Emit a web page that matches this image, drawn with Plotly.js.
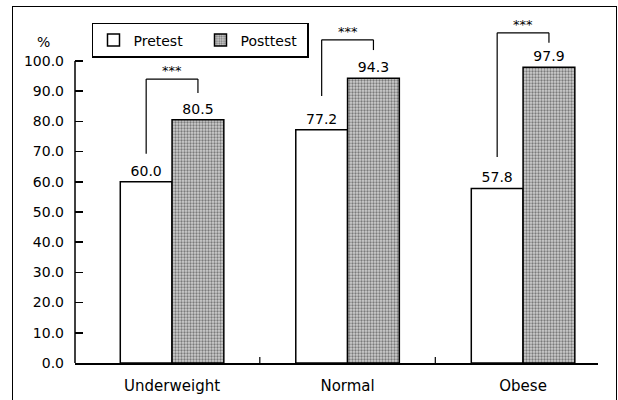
<!DOCTYPE html>
<html>
<head>
<meta charset="utf-8">
<script src="https://cdn.plot.ly/plotly-3.0.1.min.js"></script>
<style>
  html, body { margin: 0; padding: 0; background: #fff; }
  #wrap { position: relative; width: 618px; height: 400px; }
  #chart { width: 618px; height: 400px; }
  #frame { position: absolute; left: 12px; top: 6px; width: 603px; height: 400px;
           border-left: 1.5px solid #000; border-top: 1.5px solid #000; border-right: 1.5px solid #000;
           pointer-events: none; }
</style>
</head>
<body>
<div id="wrap">
  <div id="chart"></div>
  <div id="frame"></div>
</div>
<script>
// ---- data ----
const categories = ["Underweight", "Normal", "Obese"];
const pretest = [60.0, 77.2, 57.8];
const posttest = [80.5, 94.3, 97.9];
const yTicks = [0, 10, 20, 30, 40, 50, 60, 70, 80, 90, 100];
// significance brackets: top, left end, right end
const bracketTop = [94.0, 107.0, 109.3];
const bracketLeftEnd = [69.3, 88.4, 68.2];
const bracketRightEnd = [89.4, 103.6, 106.0];
const sigLabel = ["***", "***", "***"];

const bargap = 0.41;
const off = (1 - bargap) / 4;

const font = "DejaVu Sans, Arial, sans-serif";

const traces = [
  {
    type: "bar", name: "Pretest", x: categories, y: pretest,
    marker: { color: "#ffffff", line: { color: "#000", width: 1.5 } },
    texttemplate: "%{y:.1f}", textposition: "outside", cliponaxis: false,
    textfont: { family: font, size: 14, color: "#000" }
  },
  {
    type: "bar", name: "Posttest", x: categories, y: posttest,
    marker: {
      color: "#c4c4c4",
      line: { color: "#000", width: 1.5 },
      pattern: { shape: ".", fgcolor: "#7a7a7a", bgcolor: "#cfcfcf", size: 3, solidity: 0.45, fillmode: "replace" }
    },
    texttemplate: "%{y:.1f}", textposition: "outside", cliponaxis: false,
    textfont: { family: font, size: 14, color: "#000" }
  }
];

const shapes = [
  // y axis line only from 0 to 100
  { type: "line", xref: "paper", yref: "y", x0: 0, x1: 0, y0: 0, y1: yTicks[yTicks.length - 1],
    line: { color: "#000", width: 1.5 } }
];
// category boundary ticks (between categories only)
for (let i = 0; i < categories.length - 1; i++) {
  shapes.push({ type: "line", xref: "x", yref: "paper", x0: i + 0.5, x1: i + 0.5, y0: 0, y1: 0.018,
    line: { color: "#000", width: 1.2 } });
}
const annotations = [
  { xref: "paper", yref: "paper", x: -0.061, y: 0.95, xanchor: "center", yanchor: "middle",
    text: "%", showarrow: false, font: { family: font, size: 14, color: "#000" } }
];
categories.forEach((c, i) => {
  const xl = i - off, xr = i + off;
  const ln = { color: "#000", width: 1.2 };
  shapes.push({ type: "line", xref: "x", yref: "y", x0: xl, x1: xl, y0: bracketLeftEnd[i], y1: bracketTop[i], line: ln });
  shapes.push({ type: "line", xref: "x", yref: "y", x0: xl, x1: xr, y0: bracketTop[i], y1: bracketTop[i], line: ln });
  shapes.push({ type: "line", xref: "x", yref: "y", x0: xr, x1: xr, y0: bracketTop[i], y1: bracketRightEnd[i], line: ln });
  annotations.push({ xref: "x", yref: "y", x: i, y: bracketTop[i], yanchor: "bottom", yshift: -1,
    text: sigLabel[i], showarrow: false, font: { family: font, size: 13, color: "#000" } });
});

const layout = {
  width: 618, height: 400,
  margin: { l: 75, r: 20, t: 25, b: 37 },
  paper_bgcolor: "#fff", plot_bgcolor: "#fff",
  barmode: "group", bargap: bargap, bargroupgap: 0,
  showlegend: true,
  legend: {
    orientation: "h", x: 0.0325, y: 1.006, xanchor: "left", yanchor: "top",
    bordercolor: "#000", borderwidth: 1.5, bgcolor: "#fff",
    font: { family: font, size: 14, color: "#000" },
    entrywidth: 62, entrywidthmode: "pixels", itemwidth: 30, tracegroupgap: 0
  },
  xaxis: {
    type: "category", range: [-0.553, 2.427],
    showline: true, linecolor: "#000", linewidth: 1.5,
    ticks: "", showgrid: false, zeroline: false,
    tickfont: { family: font, size: 15, color: "#000" },
    ticklabelstandoff: 8
  },
  yaxis: {
    range: [0, 111.9], tickvals: yTicks, tickformat: ".1f",
    showline: false, showgrid: false, zeroline: false,
    ticks: "inside", ticklen: 8, tickwidth: 1.5, tickcolor: "#000",
    tickfont: { family: font, size: 14, color: "#000" },
    ticklabelstandoff: 10
  },
  shapes: shapes,
  annotations: annotations
};

Plotly.newPlot("chart", traces, layout, { displayModeBar: false, staticPlot: true });
</script>
</body>
</html>
